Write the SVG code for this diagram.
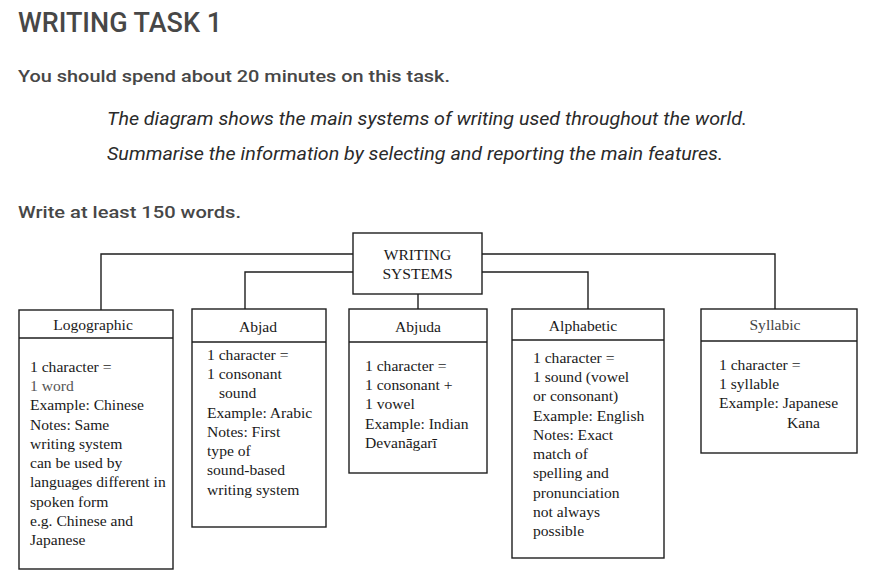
<svg xmlns="http://www.w3.org/2000/svg" width="872" height="580" viewBox="0 0 872 580">
<style>
.hd{font-family:Roboto,"Liberation Sans",sans-serif;fill:#474747}
.box{fill:#fff;stroke:#1e1e1e;stroke-width:1.4}
.ln{fill:none;stroke:#1e1e1e;stroke-width:1.4}
.t{font-family:"Liberation Serif","Times New Roman",serif;font-size:15.6px;fill:#1a1a1a}
.c{text-anchor:middle}
</style>
<rect width="872" height="580" fill="#fff"/>
<text class="hd" x="18" y="32" font-size="28" font-weight="500" textLength="204" lengthAdjust="spacingAndGlyphs">WRITING TASK 1</text>
<text class="hd" x="18" y="82" font-size="17" font-weight="500" textLength="432" lengthAdjust="spacingAndGlyphs">You should spend about 20 minutes on this task.</text>
<text class="hd" x="107" y="125" font-size="17.5" font-style="italic" fill="#2a2a2a" textLength="640" lengthAdjust="spacingAndGlyphs" style="fill:#2a2a2a">The diagram shows the main systems of writing used throughout the world.</text>
<text class="hd" x="107" y="160" font-size="17.5" font-style="italic" textLength="616" lengthAdjust="spacingAndGlyphs" style="fill:#2a2a2a">Summarise the information by selecting and reporting the main features.</text>
<text class="hd" x="18" y="218" font-size="17" font-weight="500" textLength="223" lengthAdjust="spacingAndGlyphs">Write at least 150 words.</text>

<g id="connectors">
<polyline class="ln" points="353,254 101,254 101,310"/>
<polyline class="ln" points="353,272 245,272 245,309"/>
<line class="ln" x1="418" y1="294" x2="418" y2="309"/>
<polyline class="ln" points="482,272 588,272 588,309"/>
<polyline class="ln" points="482,254 775,254 775,309"/>
</g>

<g id="root">
<rect class="box" x="353" y="233" width="129" height="61"/>
<text class="t c" x="417.5" y="260">WRITING</text>
<text class="t c" x="417.5" y="279">SYSTEMS</text>
</g>

<g id="logographic">
<rect class="box" x="19" y="310" width="154" height="259"/>
<line class="ln" x1="19" y1="338" x2="173" y2="338"/>
<text class="t c" x="93" y="330">Logographic</text>
<text class="t" x="30" y="372">1 character =</text>
<text class="t" x="30" y="391" style="fill:#555">1 word</text>
<text class="t" x="30" y="410">Example: Chinese</text>
<text class="t" x="30" y="430">Notes: Same</text>
<text class="t" x="30" y="449">writing system</text>
<text class="t" x="30" y="468">can be used by</text>
<text class="t" x="30" y="487">languages different in</text>
<text class="t" x="30" y="507">spoken form</text>
<text class="t" x="30" y="526">e.g. Chinese and</text>
<text class="t" x="30" y="545">Japanese</text>
</g>

<g id="abjad">
<rect class="box" x="192" y="309" width="134" height="218"/>
<line class="ln" x1="192" y1="342" x2="326" y2="342"/>
<text class="t c" x="258" y="332">Abjad</text>
<text class="t" x="207" y="360">1 character =</text>
<text class="t" x="207" y="379">1 consonant</text>
<text class="t" x="219" y="398">sound</text>
<text class="t" x="207" y="418">Example: Arabic</text>
<text class="t" x="207" y="437">Notes: First</text>
<text class="t" x="207" y="456">type of</text>
<text class="t" x="207" y="475">sound-based</text>
<text class="t" x="207" y="495">writing system</text>
</g>

<g id="abjuda">
<rect class="box" x="349" y="309" width="138" height="164"/>
<line class="ln" x1="349" y1="342" x2="487" y2="342"/>
<text class="t c" x="418" y="332">Abjuda</text>
<text class="t" x="365" y="371">1 character =</text>
<text class="t" x="365" y="390">1 consonant +</text>
<text class="t" x="365" y="409">1 vowel</text>
<text class="t" x="365" y="429">Example: Indian</text>
<text class="t" x="365" y="448">Devanāgarī</text>
</g>

<g id="alphabetic">
<rect class="box" x="512" y="309" width="152" height="249"/>
<line class="ln" x1="512" y1="340" x2="664" y2="340"/>
<text class="t c" x="583" y="331">Alphabetic</text>
<text class="t" x="533" y="363">1 character =</text>
<text class="t" x="533" y="382">1 sound (vowel</text>
<text class="t" x="533" y="401">or consonant)</text>
<text class="t" x="533" y="421">Example: English</text>
<text class="t" x="533" y="440">Notes: Exact</text>
<text class="t" x="533" y="459">match of</text>
<text class="t" x="533" y="478">spelling and</text>
<text class="t" x="533" y="498">pronunciation</text>
<text class="t" x="533" y="517">not always</text>
<text class="t" x="533" y="536">possible</text>
</g>

<g id="syllabic">
<rect class="box" x="701" y="309" width="156" height="144"/>
<line class="ln" x1="701" y1="341" x2="857" y2="341"/>
<text class="t c" x="775" y="330" style="fill:#444">Syllabic</text>
<text class="t" x="719" y="370">1 character =</text>
<text class="t" x="719" y="389">1 syllable</text>
<text class="t" x="719" y="408">Example: Japanese</text>
<text class="t" x="787" y="428">Kana</text>
</g>
</svg>
